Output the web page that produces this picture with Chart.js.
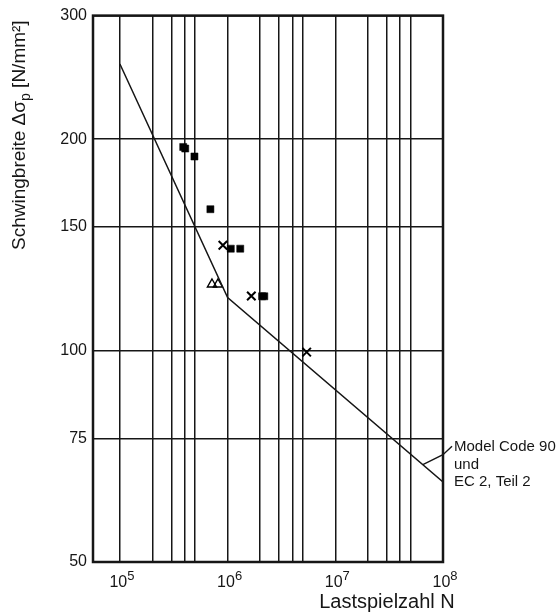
<!DOCTYPE html>
<html>
<head>
<meta charset="utf-8">
<script src="https://cdn.jsdelivr.net/npm/chart.js@4/dist/chart.umd.min.js"></script>
<style>
  html, body { margin: 0; padding: 0; background: #fff; }
  canvas { display: block; }
</style>
</head>
<body>
<canvas id="chart" width="558" height="612"></canvas>
<script>
// ---------- Data ----------
// Model Code 90 / EC 2 curve (N, stress range)
const lineN = [1e5, 1e6, 1e8];
const lineS = [256, 119, 65];

// test results
const squareN = [3.87e5, 4.04e5, 4.92e5, 6.92e5, 1.07e6, 1.31e6, 2.09e6, 2.19e6];
const squareS = [195, 194, 189, 159, 139.7, 139.7, 119.5, 119.5];
const crossN = [9.04e5, 1.66e6, 5.42e6];
const crossS = [141.3, 119.6, 99.5];
const triN = [7.16e5, 8.13e5];
const triS = [124.3, 124.3];

// axes
const xGrid = [1e5, 2e5, 3e5, 4e5, 5e5, 1e6, 2e6, 3e6, 4e6, 5e6, 1e7, 2e7, 3e7, 4e7, 5e7, 1e8];
const xExponents = [5, 6, 7, 8];
const yTicks = [50, 75, 100, 150, 200, 300];
const xMin = Math.pow(10, 4.75), xMax = 1e8;
const yMin = 50, yMax = 300;

const xTitle = "Lastspielzahl N";
const yTitleMain = "Schwingbreite \u0394\u03c3";
const yTitleSub = "p";
const yTitleUnit = " [N/mm\u00b2]";
const noteLines = ["Model Code 90", "und", "EC 2, Teil 2"];
const leaderN = 6.5e7;

// ---------- Helpers ----------
const FONT = '"Liberation Sans", Arial, sans-serif';
const INK = "#161616";
const pts = (xs, ys) => xs.map((x, i) => ({ x, y: ys[i] }));

// stress on the curve at N (log-log interpolation)
const curveAt = n => {
    for (let i = 0; i < lineN.length - 1; i++) {
        if (n <= lineN[i + 1]) {
            const t = (Math.log10(n) - Math.log10(lineN[i])) / (Math.log10(lineN[i + 1]) - Math.log10(lineN[i]));
            return Math.pow(10, Math.log10(lineS[i]) + t * (Math.log10(lineS[i + 1]) - Math.log10(lineS[i])));
        }
    }
    return lineS[lineS.length - 1];
};

// ---------- Decorations ----------
const decor = {
    id: "decor",
    afterDraw(chart) {
        const { ctx, chartArea: a, scales: { x, y } } = chart;
        ctx.save();

        // frame
        ctx.strokeStyle = INK;
        ctx.lineWidth = 2.5;
        ctx.strokeRect(a.left, a.top, a.right - a.left, a.bottom - a.top);

        ctx.fillStyle = INK;
        ctx.textBaseline = "alphabetic";
        ctx.textAlign = "left";

        // x tick labels 10^n
        xExponents.forEach(e => {
            const px = x.getPixelForValue(Math.pow(10, e));
            ctx.font = `16px ${FONT}`;
            const wb = ctx.measureText("10").width;
            ctx.font = `13px ${FONT}`;
            const we = ctx.measureText(String(e)).width;
            const start = px + 2 - (wb + we) / 2;
            ctx.font = `16px ${FONT}`;
            ctx.fillText("10", start, 587);
            ctx.font = `13px ${FONT}`;
            ctx.fillText(String(e), start + wb, 580);
        });

        // x title
        ctx.font = `20px ${FONT}`;
        ctx.textAlign = "center";
        ctx.fillText(xTitle, 387, 608);

        // y title (rotated, subscript p)
        ctx.save();
        ctx.translate(25, 250);
        ctx.rotate(-Math.PI / 2);
        ctx.textAlign = "left";
        ctx.font = `19px ${FONT}`;
        ctx.fillText(yTitleMain, 0, 0);
        let off = ctx.measureText(yTitleMain).width;
        ctx.font = `14px ${FONT}`;
        ctx.fillText(yTitleSub, off, 5);
        off += ctx.measureText(yTitleSub).width;
        ctx.font = `19px ${FONT}`;
        ctx.fillText(yTitleUnit, off, 0);
        ctx.restore();

        // annotation leader + text
        const sx = x.getPixelForValue(leaderN);
        const sy = y.getPixelForValue(curveAt(leaderN));
        ctx.lineWidth = 1.4;
        ctx.beginPath();
        ctx.moveTo(sx, sy);
        ctx.lineTo(a.right, sy - 10);
        ctx.lineTo(a.right + 9, sy - 18.5);
        ctx.stroke();

        ctx.font = `15px ${FONT}`;
        ctx.textAlign = "left";
        noteLines.forEach((t, i) => ctx.fillText(t, a.right + 11, 451 + i * 17.5));

        ctx.restore();
    }
};

// ---------- Chart ----------
new Chart(document.getElementById("chart"), {
    type: "scatter",
    data: {
        datasets: [
            {
                label: "Model Code 90 und EC 2, Teil 2",
                data: pts(lineN, lineS),
                showLine: true,
                borderColor: INK,
                borderWidth: 1.5,
                pointRadius: 0,
                tension: 0
            },
            {
                label: "squares",
                data: pts(squareN, squareS),
                pointStyle: "rect",
                pointRadius: 5,
                backgroundColor: "#000",
                borderColor: "#000",
                borderWidth: 0.5
            },
            {
                label: "crosses",
                data: pts(crossN, crossS),
                pointStyle: "crossRot",
                pointRadius: 6,
                borderColor: "#000",
                borderWidth: 2
            },
            {
                label: "triangles",
                data: pts(triN, triS),
                pointStyle: "triangle",
                pointRadius: 5.3,
                backgroundColor: "rgba(0,0,0,0)",
                borderColor: "#000",
                borderWidth: 1.4
            }
        ]
    },
    options: {
        responsive: false,
        animation: false,
        devicePixelRatio: 1,
        layout: { padding: { top: 15, right: 115, bottom: 0, left: 0 } },
        plugins: { legend: { display: false }, tooltip: { enabled: false } },
        scales: {
            x: {
                type: "logarithmic",
                min: xMin,
                max: xMax,
                afterBuildTicks: s => { s.ticks = xGrid.map(v => ({ value: v })); },
                afterFit: s => { s.height = 50; },
                ticks: { display: false },
                grid: { color: INK, lineWidth: 1.5, drawTicks: false },
                border: { display: false }
            },
            y: {
                type: "logarithmic",
                min: yMin,
                max: yMax,
                afterBuildTicks: s => { s.ticks = yTicks.map(v => ({ value: v })); },
                afterFit: s => { s.width = 93; },
                ticks: {
                    autoSkip: false,
                    padding: 6,
                    color: INK,
                    font: { family: FONT, size: 16 },
                    callback: v => String(v)
                },
                grid: { color: INK, lineWidth: 1.5, drawTicks: false },
                border: { display: false }
            }
        }
    },
    plugins: [decor]
});
</script>
</body>
</html>
